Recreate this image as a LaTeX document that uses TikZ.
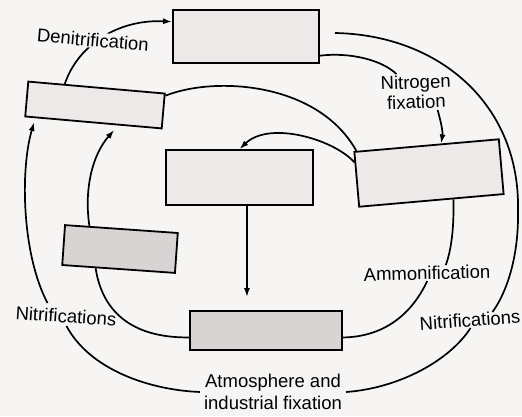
\documentclass[tikz,border=0pt]{standalone}
\usepackage{fontspec}
\setmainfont{Liberation Sans}
\usetikzlibrary{calc,arrows.meta}
\definecolor{paper}{RGB}{246,245,243}
\definecolor{boxlight}{RGB}{236,233,232}
\definecolor{boxdark}{RGB}{216,212,211}
\begin{document}
\begin{tikzpicture}[x=1pt,y=-1pt,
  box/.style={draw=black,line width=1.8pt,inner sep=0pt},
  lightbox/.style={box,fill=boxlight},
  darkbox/.style={box,fill=boxdark},
  lbl/.style={font=\fontsize{18.5}{22}\selectfont,inner sep=1pt,align=center},
  conn/.style={line width=1.7pt},
  arr/.style={conn,-{Latex[length=9pt,width=6pt]}}]

\fill[paper] (0,0) rectangle (522,416);
\path[use as bounding box] (0,0) rectangle (522,416);

% boxes
\node[lightbox,minimum width=146pt,minimum height=53pt] (tb) at (246,36.5) {};
\node[lightbox,minimum width=137pt,minimum height=35pt,rotate=-5] (lb) at (95,105) {};
\node[lightbox,minimum width=147pt,minimum height=55pt] (mb) at (239.5,177.5) {};
\node[lightbox,minimum width=145pt,minimum height=55pt,rotate=5] (rb) at (429,173) {};
\node[darkbox,minimum width=113pt,minimum height=40pt,rotate=-4] (llb) at (120,249) {};
\node[darkbox,minimum width=152pt,minimum height=39pt] (bb) at (266,330.5) {};

% labels
\node[lbl,font=\fontsize{18.5}{20}\selectfont,rotate=2] (nf) at (416,92) {Nitrogen\\fixation};
\node[lbl,rotate=1.5] (am) at (427,273) {Ammonification};
\node[lbl,rotate=4] (nr) at (470,320) {Nitrifications};
\node[lbl,rotate=-4] (nl) at (66,316) {Nitrifications};
\node[lbl,inner xsep=4pt] (atm) at (273,392) {Atmosphere and\\industrial fixation};

% denitrification
\draw[arr] ($(lb.north west)!0.27!(lb.north east)$) .. controls (78,45) and (118,19) .. ($(tb.north west)!0.23!(tb.south west)$);

% nitrogen fixation
\draw[conn] ($(tb.north east)!0.85!(tb.south east)$) .. controls (350,52) and (382,60) .. ($(nf.north)+(-19,0)$);
\draw[arr] ($(nf.south)+(21,0)$) .. controls (441,122) and (443,132) .. ($(rb.north west)!0.6!(rb.north east)$);

% outer loop
\coordinate (o1) at (335,33);
\draw[conn] (o1) .. controls (440,35) and (520,105) .. (518,210) .. controls (519,260) and (505,295) .. ($(nr.north)+(23,0)$);
\draw[conn] (nr.south) .. controls (450,360) and (400,388) .. (atm.east);
\draw[conn] (atm.west) .. controls (150,390) and (90,370) .. ($(nl.south)+(1,2)$);
\draw[arr,shorten >=4pt] ($(nl.north)+(-19,-5)$) .. controls (22,255) and (20,170) .. ($(lb.south west)!0.08!(lb.south east)$);

% left box to right box
\draw[conn] ($(lb.north east)!0.08!(lb.south east)$) .. controls (215,76) and (318,82) .. ($(rb.north west)!0.02!(rb.north east)$);

% right box to middle box
\draw[arr] ($(rb.north west)!0.2!(rb.south west)$) .. controls (335,140) and (270,120) .. (mb.north);

% middle box to bottom box
\coordinate (f1) at ($(mb.south west)!0.55!(mb.south east)$);
\draw[arr,shorten >=13pt] (f1) -- (f1 |- bb.north);

% ammonification
\draw[conn] ($(rb.south west)!0.65!(rb.south east)$) .. controls (454,225) and (452,248) .. ($(am.north)+(19,0)$);
\draw[conn] (am.south) .. controls (410,318) and (380,337) .. ($(bb.north east)!0.67!(bb.south east)$);

% bottom box to lower-left box
\draw[conn] ($(bb.north west)!0.67!(bb.south west)$) .. controls (130,338) and (102,310) .. ($(llb.south west)!0.3!(llb.south east)$);

% lower-left box to left box
\draw[arr,shorten >=6pt] ($(llb.north west)!0.22!(llb.north east)$) .. controls (84,190) and (92,155) .. ($(lb.south west)!0.68!(lb.south east)$);

% denitrification label over its connector
\node[lbl,fill=paper,rotate=-5] (dn) at (93,40) {Denitrification};
\end{tikzpicture}
\end{document}
